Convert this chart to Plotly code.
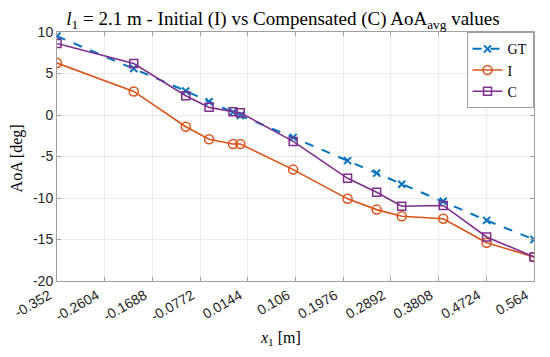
import plotly.graph_objects as go

x_pos = [-0.352, -0.2046, -0.1047, -0.060, -0.014, 0.0, 0.1015, 0.206, 0.2618, 0.310, 0.3897, 0.4731, 0.564]
gt_vals = [9.5, 5.6, 2.9, 1.6, 0.35, -0.05, -2.7, -5.5, -7.0, -8.35, -10.4, -12.7, -15.0]
i_vals = [6.26, 2.84, -1.41, -2.93, -3.49, -3.49, -6.58, -10.1, -11.4, -12.2, -12.5, -15.4, -17.1]
c_vals = [8.62, 6.21, 2.32, 0.92, 0.40, 0.28, -3.18, -7.63, -9.31, -11.0, -10.9, -14.7, -17.1]

x_ticks = [-0.352, -0.2604, -0.1688, -0.0772, 0.0144, 0.106, 0.1976, 0.2892, 0.3808, 0.4724, 0.564]
x_ticklabels = ["-0.352", "-0.2604", "-0.1688", "-0.0772", "0.0144", "0.106", "0.1976", "0.2892", "0.3808", "0.4724", "0.564"]
y_ticks = [10, 5, 0, -5, -10, -15, -20]
y_ticklabels = ["10", "5", "0", "-5", "-10", "-15", "-20"]

blue = "#0072BD"
orange = "#D95319"
purple = "#7E2F8E"

fig = go.Figure()
fig.add_trace(go.Scatter(x=x_pos, y=gt_vals, name="GT", mode="lines+markers",
                         line=dict(color=blue, width=2, dash="dash"),
                         marker=dict(symbol="x-thin", size=7, line=dict(color=blue, width=2))))
fig.add_trace(go.Scatter(x=x_pos, y=i_vals, name="I", mode="lines+markers",
                         line=dict(color=orange, width=1.6),
                         marker=dict(symbol="circle-open", size=9, color=orange, line=dict(width=1.5))))
fig.add_trace(go.Scatter(x=x_pos, y=c_vals, name="C", mode="lines+markers",
                         line=dict(color=purple, width=1.6),
                         marker=dict(symbol="square-open", size=8, color=purple, line=dict(width=1.5))))

serif = "Liberation Serif, DejaVu Serif, serif"
sans = "Liberation Sans, Arial, sans-serif"

fig.update_layout(
    width=550, height=357,
    margin=dict(l=49, r=24, t=24, b=84),
    paper_bgcolor="white", plot_bgcolor="white",
    title=dict(text="<i>l</i><sub>1</sub> = 2.1 m - Initial (I) vs Compensated (C) AoA<sub>avg</sub> values",
               font=dict(family=serif, size=19, color="#000"), x=0.5, xanchor="center",
               yref="container", y=0.972, yanchor="middle"),
    showlegend=True,
    legend=dict(x=0.999, xanchor="right", y=0.999, yanchor="top", bgcolor="white",
                bordercolor="#a0a0a0", borderwidth=1, font=dict(family=serif, size=14, color="#000"),
                itemwidth=30, tracegroupgap=0),
    font=dict(family=sans, size=13, color="#262626"),
    annotations=[
        dict(text="<i>x</i><sub>1</sub> [m]", xref="paper", yref="paper", x=0.468, y=-0.229,
             xanchor="center", yanchor="middle", showarrow=False,
             font=dict(family=serif, size=16, color="#000")),
        dict(text="AoA [deg]", xref="paper", yref="paper", x=-0.083, y=0.494, textangle=-90,
             xanchor="center", yanchor="middle", showarrow=False,
             font=dict(family=serif, size=16, color="#000")),
    ],
)
fig.update_xaxes(range=[-0.352, 0.564], tickvals=x_ticks, ticktext=x_ticklabels, tickangle=-30,
                 automargin=False, ticklabelshift=-8,
                 showgrid=True, gridcolor="#ebebeb", gridwidth=1, zeroline=False,
                 showline=True, linecolor="#a0a0a0", linewidth=1, mirror="ticks",
                 ticks="inside", ticklen=4, tickcolor="#a0a0a0",
                 tickfont=dict(family=sans, size=14, color="#262626"))
fig.update_yaxes(range=[-20, 10], tickvals=y_ticks, ticktext=y_ticklabels,
                 automargin=False,
                 showgrid=True, gridcolor="#ebebeb", gridwidth=1, zeroline=False,
                 showline=True, linecolor="#a0a0a0", linewidth=1, mirror="ticks",
                 ticks="inside", ticklen=4, tickcolor="#a0a0a0",
                 tickfont=dict(family=sans, size=14, color="#262626"))

fig.write_html("out.html")
